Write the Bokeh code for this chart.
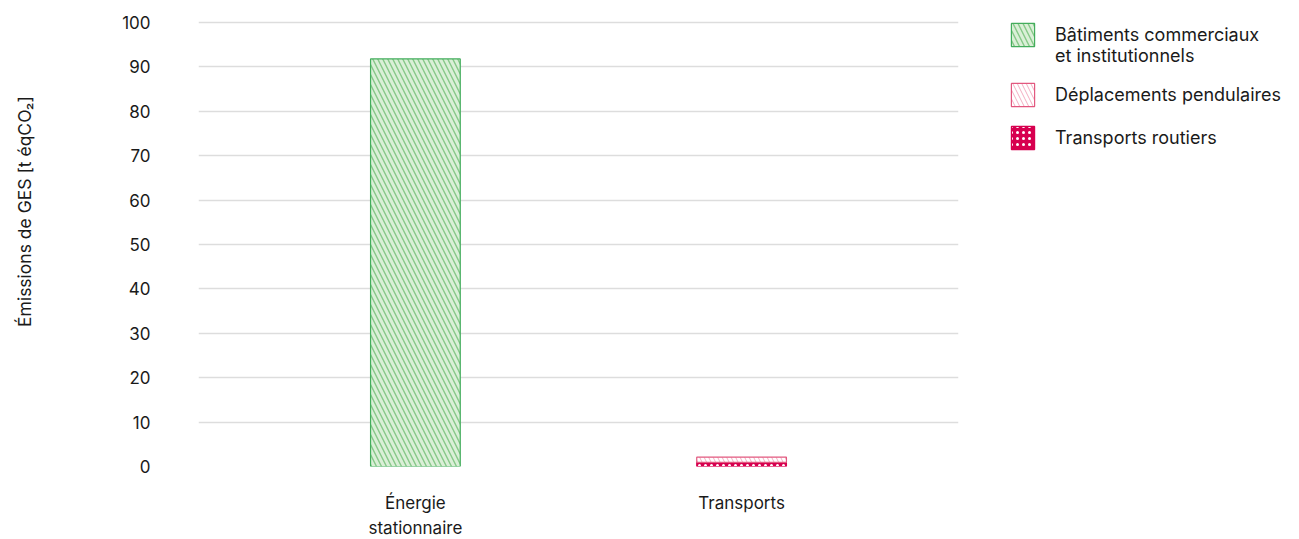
from bokeh.plotting import figure
from bokeh.models import ColumnDataSource, Legend, LegendItem, FactorRange
from bokeh.embed import file_html
from bokeh.resources import INLINE

categories = ["Énergie\nstationnaire", "Transports"]
# stacked series, from bottom to top
routiers = [0.0, 0.95]
pendulaires = [0.0, 1.15]
batiments = [91.8, 0.0]
series_names = ["Transports routiers", "Déplacements pendulaires", "Bâtiments commerciaux\net institutionnels"]
y_ticks = [0, 10, 20, 30, 40, 50, 60, 70, 80, 90, 100]

FONT = "Inter"
TXT = "#1a1a1a"
FS = "17px"

p = figure(x_range=FactorRange(*categories, range_padding=0.165, range_padding_units="absolute"),
           y_range=(0, 100.45), frame_width=760, frame_height=446, output_backend="svg",
           toolbar_location=None, min_border_left=198, min_border_right=60,
           min_border_top=20, min_border_bottom=73)
p.outline_line_color = None
p.background_fill_color = "white"

styles = [
    dict(fill_color="#d7004f", line_color="#d7004f", hatch_pattern="dot", hatch_color="white",
         hatch_scale=6, hatch_weight=1.6),
    dict(fill_color="white", line_color="#e2587f", hatch_pattern="left_diagonal_line",
         hatch_color="#e5557f", hatch_scale=9, hatch_weight=0.6, hatch_alpha=0.8),
    dict(fill_color="#daefd7", line_color="#43ad5c", hatch_pattern="left_diagonal_line",
         hatch_color="#86c888", hatch_scale=10, hatch_weight=1.4),
]

stack = [routiers, pendulaires, batiments]
base = [0.0] * len(categories)
renderers = []
for vals, st in zip(stack, styles):
    xs, bots, tops = [], [], []
    for i, c in enumerate(categories):
        if vals[i] > 0:
            xs.append(c)
            bots.append(base[i])
            tops.append(base[i] + vals[i])
        base[i] += vals[i]
    src = ColumnDataSource(dict(x=xs, bottom=bots, top=tops))
    r = p.vbar(x="x", bottom="bottom", top="top", width=0.275, source=src, line_width=1.2, **st)
    renderers.append(r)

# legend (order top to bottom: batiments, pendulaires, routiers)
# leading empty line keeps the swatch level with the first line of the two-line label
labels = {0: series_names[0], 1: series_names[1], 2: "\n" + series_names[2]}
items = [LegendItem(label=labels[k], renderers=[renderers[k]]) for k in (2, 1, 0)]
legend = Legend(items=items, location=(50, 314), glyph_width=29, glyph_height=29,
                label_text_font=FONT, label_text_font_size="18px", label_text_color=TXT,
                label_standoff=18, spacing=14, margin=0, padding=0,
                border_line_color=None, background_fill_alpha=0, label_text_line_height=1.39)
p.add_layout(legend, "right")

# axes
p.yaxis.ticker = y_ticks
p.yaxis.axis_line_color = None
p.yaxis.major_tick_line_color = None
p.yaxis.minor_tick_line_color = None
p.yaxis.major_label_standoff = 42
p.yaxis.major_label_text_font = FONT
p.yaxis.major_label_text_font_size = FS
p.yaxis.major_label_text_color = TXT
p.yaxis.axis_label = "\u00a0" * 13 + "Émissions de GES [t éqCO₂]"
p.yaxis.axis_label_text_font = FONT
p.yaxis.axis_label_text_font_size = "17.5px"
p.yaxis.axis_label_text_font_style = "normal"
p.yaxis.axis_label_text_color = TXT
p.yaxis.axis_label_standoff = 84

p.xaxis.axis_line_color = None
p.xaxis.major_tick_line_color = None
p.xaxis.minor_tick_line_color = None
p.xaxis.major_label_standoff = 20
p.xaxis.major_label_text_font = FONT
p.xaxis.major_label_text_font_size = FS
p.xaxis.major_label_text_color = TXT
p.xaxis.major_label_text_line_height = 1.28

p.xgrid.grid_line_color = None
p.ygrid.grid_line_color = "#dddddd"
p.ygrid.grid_line_width = 1.5

open("out.html", "w").write(file_html(p, INLINE))
